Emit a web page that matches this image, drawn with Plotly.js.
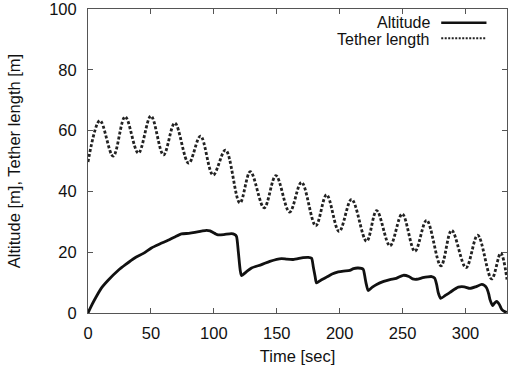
<!DOCTYPE html>
<html>
<head>
<meta charset="utf-8">
<script src="https://cdn.plot.ly/plotly-3.0.1.min.js"></script>
<style>html,body{margin:0;padding:0;background:#fff;}#chart{width:511px;height:366px;}</style>
</head>
<body>
<div id="chart"></div>
<script>
var altitudeTime = [0, 2, 5, 10.6, 16, 23.9, 30, 37.1, 44, 50.4, 57, 63.6, 69, 74.3, 80, 84.9, 90, 94.2, 97, 99.4,
  101.5, 103.4, 108, 114, 116.5, 118, 119.5, 121, 122, 126, 130, 137.9, 144.5, 153.8, 158, 163.1, 171, 175, 177.7, 179,
  180.5, 181.6, 185, 189.6, 194, 198.9, 203, 208.1, 211, 214.7, 218.7, 219.8, 220.9, 222.7, 226, 229.4, 235, 240, 245, 250.5,
  255, 258, 261.2, 266, 270, 273.1, 275.5, 277, 278.5, 280.3, 284, 287.7, 294.3, 299, 303.6, 308, 312.9, 315, 316.9, 318.5,
  319.5, 321.6, 323, 324.8, 326.9, 328.8, 331, 332.8];
var altitude = [0, 1.8, 4.2, 8.2, 10.8, 14.0, 16.0, 18.1, 19.6, 21.4, 22.7, 23.9, 25.0, 26.0, 26.2, 26.5, 26.9, 27.2, 27.0, 26.5,
  26.0, 25.7, 25.8, 26.1, 25.8, 25.2, 20, 14, 12.3, 13.6, 14.8, 15.9, 17.0, 17.9, 17.7, 17.6, 18.2, 18.3, 18.0, 15.3,
  12, 9.9, 10.8, 11.8, 12.8, 13.5, 13.8, 14.0, 14.6, 14.8, 14.4, 12.5, 10, 7.4, 8.5, 9.4, 10.4, 11.0, 11.4, 12.4,
  12.0, 11.2, 11.1, 11.6, 11.9, 12.0, 11.5, 9.5, 6.5, 4.8, 5.8, 6.8, 8.5, 8.6, 8.1, 8.6, 9.4, 9.1, 8.2, 6.2,
  4.4, 2.4, 3.2, 3.8, 2.8, 1.2, 0.5, 0.2];

var tetherTime = [0, 9.5, 20, 29.5, 40, 50, 60, 69, 80, 89.4, 99.4, 109.3, 120.7, 129, 140, 149.3, 160.2, 169.7, 181, 189.6,
  199.6, 209.5, 221.4, 229.4, 240, 249.7, 259.8, 269.1, 280.5, 289, 300.4, 309.7, 320.8, 328, 333];
var tetherLength = [49.7, 63.3, 51.6, 64.6, 52.6, 64.8, 52.0, 62.5, 49.3, 58.2, 45.4, 53.6, 36.2, 46.5, 34.6, 45.2, 33.2, 43.0, 28.7, 38.9,
  26.8, 37.4, 23.6, 33.7, 22.1, 32.6, 20.3, 30.5, 15.5, 27.2, 14.9, 25.6, 11.2, 19.7, 11.0];

var seriesNames = ['Altitude', 'Tether length'];

var traces = [
  {x: altitudeTime, y: altitude, type: 'scatter', mode: 'lines', name: seriesNames[0],
   line: {color: '#111', width: 2.8, shape: 'spline', smoothing: 0.6}, showlegend: false},
  {x: tetherTime, y: tetherLength, type: 'scatter', mode: 'lines', name: seriesNames[1],
   line: {color: '#222', width: 2.8, dash: '3px,2px', shape: 'spline', smoothing: 1}, showlegend: false}
];

var fnt = {family: 'Liberation Sans, Arial, sans-serif', size: 16.5, color: '#111'};
var legFnt = {family: 'Liberation Sans, Arial, sans-serif', size: 16, color: '#111'};
var axisCommon = {
  showgrid: false, zeroline: false, showline: true, linecolor: '#555', linewidth: 1,
  mirror: 'ticks', ticks: 'inside', ticklen: 5, tickcolor: '#555', tickwidth: 1,
  tickfont: fnt, ticklabeloverflow: 'allow'
};

var layout = {
  width: 511, height: 366,
  margin: {l: 88, r: 4, t: 9, b: 53},
  paper_bgcolor: '#fff', plot_bgcolor: '#fff',
  font: fnt,
  xaxis: Object.assign({}, axisCommon, {range: [0, 333], dtick: 50, tick0: 0, ticklabelstandoff: 5,
    title: {text: 'Time [sec]', font: fnt, standoff: 9}}),
  yaxis: Object.assign({}, axisCommon, {range: [0, 100], dtick: 20, tick0: 0, ticklabelstandoff: 7,
    title: {text: 'Altitude [m], Tether length [m]', font: fnt, standoff: 24}}),
  annotations: [
    {xref: 'paper', yref: 'paper', x: 0.822, y: 0.957, xanchor: 'right', yanchor: 'middle', text: seriesNames[0], showarrow: false, font: legFnt},
    {xref: 'paper', yref: 'paper', x: 0.822, y: 0.899, xanchor: 'right', yanchor: 'middle', text: seriesNames[1], showarrow: false, font: legFnt}
  ],
  shapes: [
    {type: 'line', xref: 'paper', yref: 'paper', x0: 0.843, x1: 0.951, y0: 0.955, y1: 0.955, line: {color: '#111', width: 2.6}},
    {type: 'line', xref: 'paper', yref: 'paper', x0: 0.843, x1: 0.951, y0: 0.904, y1: 0.904, line: {color: '#222', width: 2, dash: '2px,1.5px'}}
  ]
};

Plotly.newPlot('chart', traces, layout, {displayModeBar: false, staticPlot: true});
</script>
</body>
</html>
